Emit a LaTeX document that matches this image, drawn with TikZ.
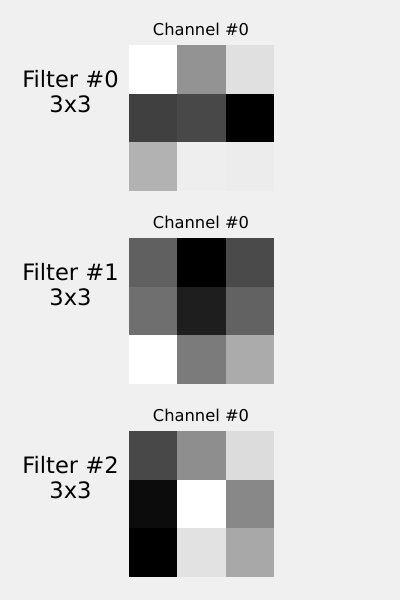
\documentclass[tikz,border=0pt]{standalone}
\usepackage{fontspec}
\setmainfont{DejaVu Sans}
\newcommand\drawgrid[2]{%
  \foreach \v [count=\i from 0] in {#2} {
    \pgfmathtruncatemacro{\r}{int(\i/3)}
    \pgfmathtruncatemacro{\c}{mod(\i,3)}
    \definecolor{cellc}{RGB}{\v,\v,\v}
    \fill[cellc] ({129+48.33*\c},{#1+48.67*\r}) rectangle ({129+48.33*(\c+1)+0.3},{#1+48.67*(\r+1)+0.3});
  }}
\begin{document}
\begin{tikzpicture}[x=1pt,y=-1pt,
  lab/.style={font=\fontsize{22.6}{25.4}\selectfont, anchor=base, inner sep=0pt},
  chan/.style={font=\fontsize{16.3}{19}\selectfont, anchor=base, inner sep=0pt}]
\fill[fill={rgb,255:red,240;green,240;blue,240}] (0,0) rectangle (400,600);
\useasboundingbox (0,0) rectangle (400,600);
\drawgrid{45}{255,147,224,64,72,0,178,238,236}
\drawgrid{238}{96,0,74,111,30,98,255,123,171}
\drawgrid{431}{72,142,220,12,255,136,0,226,168}
\node[chan] (c0) at (201,35) {Channel \#0};
\node[chan] (c1) at (201,228) {Channel \#0};
\node[chan] (c2) at (201,421) {Channel \#0};
\node[lab] (f0) at (70.5,87.3) {Filter \#0};
\node[lab] (s0) at (70.5,112.7) {3x3};
\node[lab] (f1) at (70.5,280.3) {Filter \#1};
\node[lab] (s1) at (70.5,305.7) {3x3};
\node[lab] (f2) at (70.5,473.3) {Filter \#2};
\node[lab] (s2) at (70.5,498.7) {3x3};
\end{tikzpicture}
\end{document}
